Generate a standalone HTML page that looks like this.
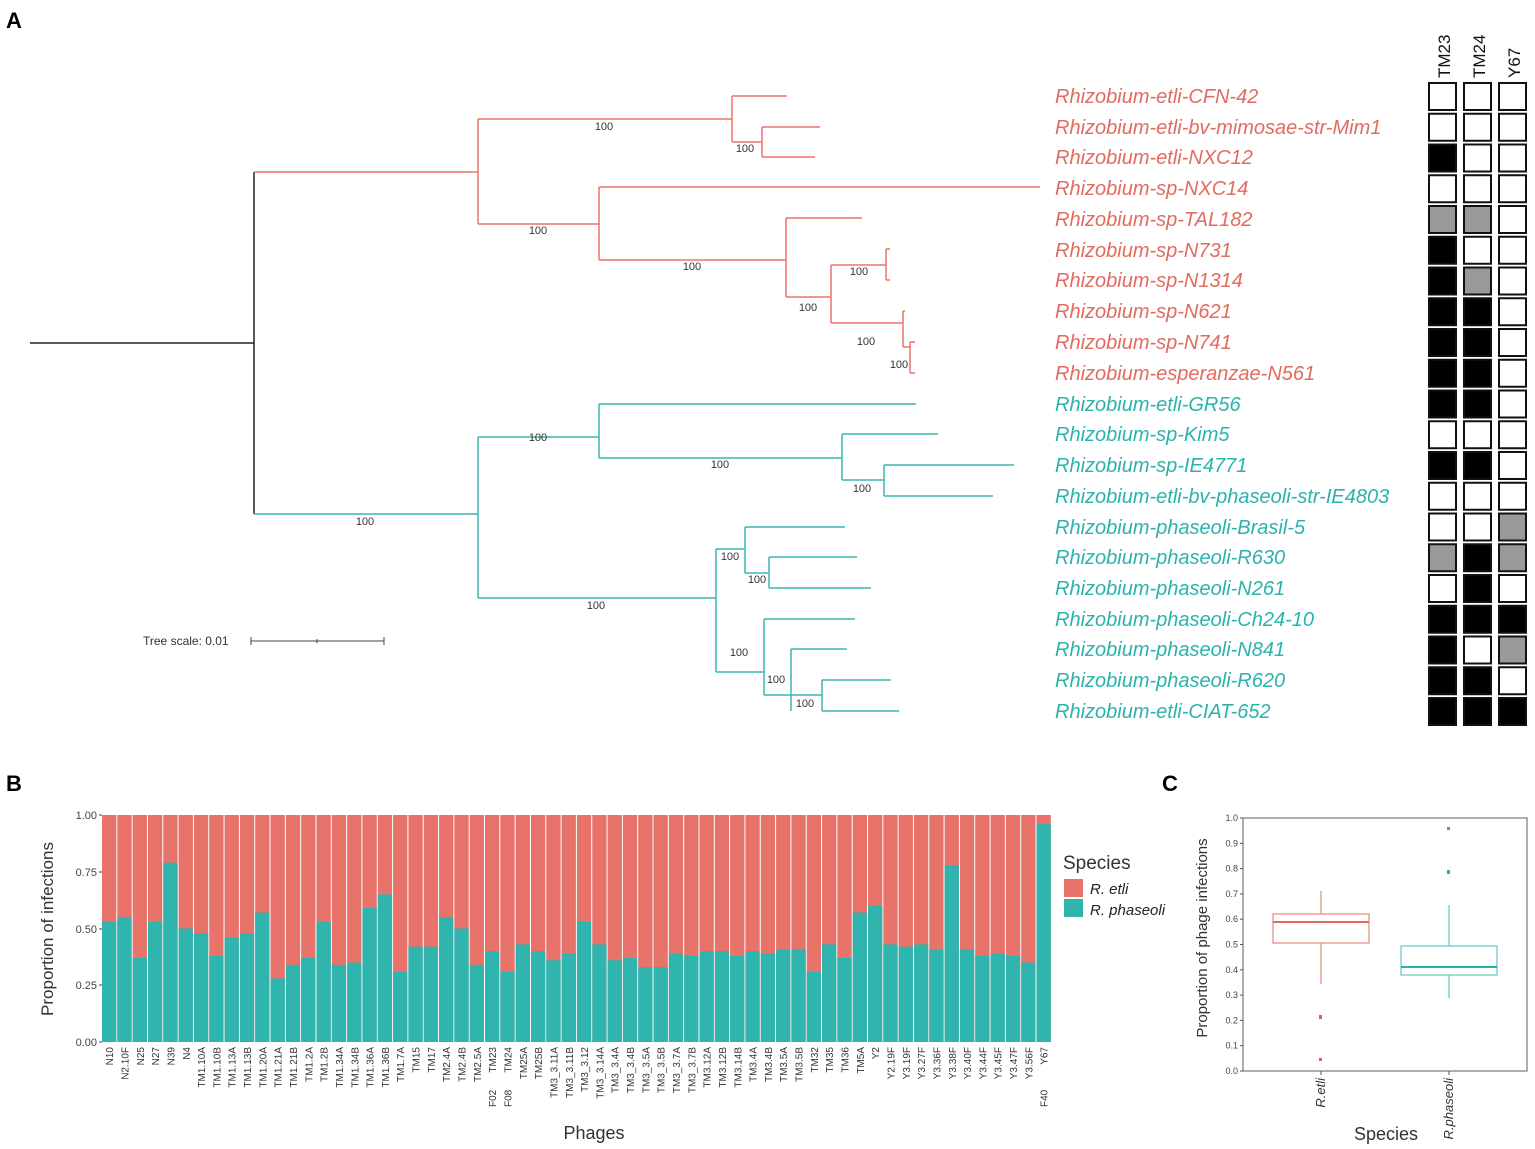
<!DOCTYPE html>
<html><head><meta charset="utf-8"><style>
body{margin:0;background:#fff;}
svg{display:block;font-family:"Liberation Sans",sans-serif;}
</style></head><body>
<svg id="s" width="1535" height="1149" viewBox="0 0 1535 1149" xmlns="http://www.w3.org/2000/svg">
<rect width="1535" height="1149" fill="#fff"/>
<text x="6" y="28" font-size="22" font-weight="bold">A</text>
<text x="6" y="791" font-size="22" font-weight="bold">B</text>
<text x="1162" y="791" font-size="22" font-weight="bold">C</text>

<!-- tree -->
<g fill="none" stroke-width="1.5">
<path d="M30,343H254M254,172V514" stroke="#222"/>
<g stroke="#e8736a">
<path d="M254,172H478M478,119V224M478,119H732M732,96V142M732,96H787M732,142H762M762,127V157M762,127H820M762,157H815"/>
<path d="M478,224H599M599,187V260M599,187H1040M599,260H786M786,218V297M786,218H862M786,297H831M831,265V323M831,265H886M886,249V280M886,249H890M886,280H890M831,323H903M903,311V347M903,311H905M903,347H910M910,342V373M910,342H915M910,373H915"/>
</g>
<g stroke="#3bb5ae">
<path d="M254,514H478M478,437V598M478,437H599M599,404V458M599,404H916M599,458H842M842,434V480M842,434H938M842,480H884M884,465V496M884,465H1014M884,496H993"/>
<path d="M478,598H716M716,549V672M716,549H745M745,527V573M745,527H845M745,573H769M769,557V588M769,557H857M769,588H871M716,672H764M764,619V695M764,619H855M764,695H791M791,649V711M791,649H847M791,695H822M822,680V711M822,680H891M822,711H899"/>
</g>
<path d="M251,641H384M251,637V645M384,637V645M317,639V643" stroke="#444" stroke-width="1"/>
</g>
<text x="143" y="645" font-size="12" fill="#333">Tree scale: 0.01</text>
<g font-size="11" fill="#333" text-anchor="middle">
<text x="604" y="130">100</text><text x="745" y="152">100</text><text x="538" y="234">100</text>
<text x="692" y="270">100</text><text x="859" y="275">100</text><text x="808" y="311">100</text>
<text x="866" y="345">100</text><text x="899" y="368">100</text><text x="538" y="441">100</text>
<text x="720" y="468">100</text><text x="862" y="492">100</text><text x="365" y="525">100</text>
<text x="596" y="609">100</text><text x="730" y="560">100</text><text x="757" y="583">100</text>
<text x="739" y="656">100</text><text x="776" y="683">100</text><text x="805" y="707">100</text>
</g>
<g font-size="20" font-style="italic" fill="#e36a5e">
<text x="1055" y="103">Rhizobium-etli-CFN-42</text>
<text x="1055" y="134">Rhizobium-etli-bv-mimosae-str-Mim1</text>
<text x="1055" y="164">Rhizobium-etli-NXC12</text>
<text x="1055" y="195">Rhizobium-sp-NXC14</text>
<text x="1055" y="226">Rhizobium-sp-TAL182</text>
<text x="1055" y="257">Rhizobium-sp-N731</text>
<text x="1055" y="287">Rhizobium-sp-N1314</text>
<text x="1055" y="318">Rhizobium-sp-N621</text>
<text x="1055" y="349">Rhizobium-sp-N741</text>
<text x="1055" y="380">Rhizobium-esperanzae-N561</text>
</g>
<g font-size="20" font-style="italic" fill="#2ab3ad">
<text x="1055" y="411">Rhizobium-etli-GR56</text>
<text x="1055" y="441">Rhizobium-sp-Kim5</text>
<text x="1055" y="472">Rhizobium-sp-IE4771</text>
<text x="1055" y="503">Rhizobium-etli-bv-phaseoli-str-IE4803</text>
<text x="1055" y="534">Rhizobium-phaseoli-Brasil-5</text>
<text x="1055" y="564">Rhizobium-phaseoli-R630</text>
<text x="1055" y="595">Rhizobium-phaseoli-N261</text>
<text x="1055" y="626">Rhizobium-phaseoli-Ch24-10</text>
<text x="1055" y="656">Rhizobium-phaseoli-N841</text>
<text x="1055" y="687">Rhizobium-phaseoli-R620</text>
<text x="1055" y="718">Rhizobium-etli-CIAT-652</text>
</g>
<g font-size="17" fill="#111">
<text transform="translate(1450,78) rotate(-90)">TM23</text>
<text transform="translate(1485,78) rotate(-90)">TM24</text>
<text transform="translate(1520,78) rotate(-90)">Y67</text>
</g>
<g id="heat"></g>

<!-- panel B -->
<g id="bars"></g>
<g font-size="11" fill="#444" text-anchor="end">
<text x="97" y="819">1.00</text><text x="97" y="876">0.75</text><text x="97" y="933">0.50</text><text x="97" y="989">0.25</text><text x="97" y="1046">0.00</text>
</g>
<path d="M99,815H102M99,872H102M99,929H102M99,985H102M99,1042H102" stroke="#444"/>
<text transform="translate(53,929) rotate(-90)" font-size="17" fill="#333" text-anchor="middle">Proportion of infections</text>
<g id="xl" font-size="10" fill="#333" text-anchor="end"></g>
<text x="594" y="1139" font-size="18" fill="#333" text-anchor="middle">Phages</text>
<text x="1063" y="869" font-size="19" fill="#333">Species</text>
<rect x="1064" y="879" width="19" height="18" fill="#e8736a"/>
<rect x="1064" y="899" width="19" height="18" fill="#2fb5ae"/>
<text x="1090" y="894" font-size="15" font-style="italic" fill="#222">R. etli</text>
<text x="1090" y="915" font-size="15" font-style="italic" fill="#222">R. phaseoli</text>

<!-- panel C -->
<rect x="1243" y="818" width="284" height="253" fill="none" stroke="#777" stroke-width="1.2"/>
<g id="cy" font-size="9" fill="#444" text-anchor="end"></g>
<text transform="translate(1207,938) rotate(-90)" font-size="15" fill="#333" text-anchor="middle">Proportion of phage infections</text>
<g fill="none" stroke="#e8908a" stroke-width="1.3">
<rect x="1273" y="914" width="96" height="29"/>
<path d="M1321,914V891M1321,943V984"/>
<path d="M1273,922H1369" stroke="#e36a5e" stroke-width="2"/>
</g>
<rect x="1319" y="1015" width="3" height="4" fill="#e85560"/>
<rect x="1319" y="1058" width="3" height="3" fill="#e85560"/>
<g fill="none" stroke="#6acbc6" stroke-width="1.3">
<rect x="1401" y="946" width="96" height="29"/>
<path d="M1449,946V905M1449,975V998"/>
<path d="M1401,967H1497" stroke="#2ab3ad" stroke-width="2"/>
</g>
<rect x="1447" y="870" width="3" height="4" fill="#2ab3ad"/>
<rect x="1447" y="827" width="3" height="3" fill="#2ab3ad"/>
<path d="M1321,1071V1075M1449,1071V1075" stroke="#555"/>
<text transform="translate(1325,1078) rotate(-90)" font-size="13" font-style="italic" fill="#333" text-anchor="end">R.etli</text>
<text transform="translate(1453,1078) rotate(-90)" font-size="13" font-style="italic" fill="#333" text-anchor="end">R.phaseoli</text>
<text x="1386" y="1140" font-size="18" fill="#333" text-anchor="middle">Species</text>
</svg>
<script>
var NS="http://www.w3.org/2000/svg";
function el(p,t,a,txt){var e=document.createElementNS(NS,t);for(var k in a)e.setAttribute(k,a[k]);if(txt)e.textContent=txt;document.getElementById(p).appendChild(e);}
var H=[["w","w","w"],["w","w","w"],["b","w","w"],["w","w","w"],["g","g","w"],["b","w","w"],["b","g","w"],["b","b","w"],["b","b","w"],["b","b","w"],["b","b","w"],["w","w","w"],["b","b","w"],["w","w","w"],["w","w","g"],["g","b","g"],["w","b","w"],["b","b","b"],["b","w","g"],["b","b","w"],["b","b","b"]];
var cx=[1429,1464,1499],C={w:"#fff",b:"#000",g:"#999"};
H.forEach(function(r,i){var y=96+30.75*i-13;r.forEach(function(c,j){el("heat","rect",{x:cx[j],y:y,width:27,height:27,fill:C[c],stroke:"#111","stroke-width":2});});});
var L=["N10","N2.10F","N25","N27","N39","N4","TM1.10A","TM1.10B","TM1.13A","TM1.13B","TM1.20A","TM1.21A","TM1.21B","TM1.2A","TM1.2B","TM1.34A","TM1.34B","TM1.36A","TM1.36B","TM1.7A","TM15","TM17","TM2.4A","TM2.4B","TM2.5A","TM23","TM24","TM25A","TM25B","TM3_3.11A","TM3_3.11B","TM3_3.12","TM3_3.14A","TM3_3.4A","TM3_3.4B","TM3_3.5A","TM3_3.5B","TM3_3.7A","TM3_3.7B","TM3.12A","TM3.12B","TM3.14B","TM3.4A","TM3.4B","TM3.5A","TM3.5B","TM32","TM35","TM36","TM5A","Y2","Y2.19F","Y3.19F","Y3.27F","Y3.36F","Y3.38F","Y3.40F","Y3.44F","Y3.45F","Y3.47F","Y3.56F","Y67"];
var V=[.53,.55,.37,.53,.79,.50,.48,.38,.46,.48,.57,.28,.34,.37,.53,.34,.35,.59,.65,.31,.42,.42,.55,.50,.34,.40,.31,.43,.40,.36,.39,.53,.43,.36,.37,.33,.33,.39,.38,.40,.40,.38,.40,.39,.41,.41,.31,.43,.37,.57,.60,.43,.42,.43,.41,.78,.41,.38,.39,.38,.35,.96];
var st=15.32;
L.forEach(function(n,i){var x=102+i*st,yt=1042-227*V[i];
el("bars","rect",{x:x,y:815,width:st-1,height:227,fill:"#e8736a"});
el("bars","rect",{x:x,y:yt,width:st-1,height:1042-yt,fill:"#2fb5ae"});
var cxm=x+st/2+3.5;
el("xl","text",{transform:"translate("+cxm+",1047) rotate(-90)"},n);
});
[["F02",25],["F08",26],["F40",61]].forEach(function(a){var cxm=102+a[1]*st+st/2+3.5;el("xl","text",{transform:"translate("+cxm+",1107) rotate(-90)","text-anchor":"start"},a[0]);});
for(var k=0;k<=10;k++){var v=k/10,y=1071-253*v;el("cy","text",{x:1238,y:y+3},v.toFixed(1));el("cy","path",{d:"M1240,"+y+"H1243",stroke:"#555"});}
</script>
</body></html>
